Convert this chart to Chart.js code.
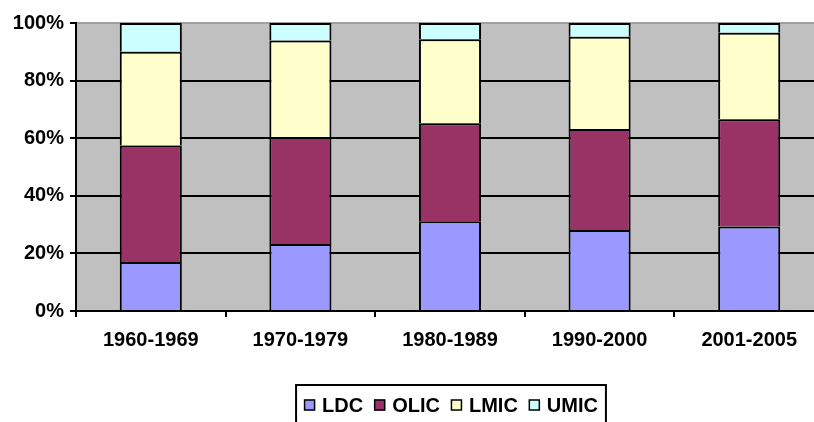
<!DOCTYPE html>
<html>
<head>
<meta charset="utf-8">
<script src="https://cdn.jsdelivr.net/npm/chart.js@4"></script>
<style>
  html, body { margin:0; padding:0; background:#fff; overflow:hidden; }
  #wrap { width:814px; height:422px; overflow:hidden; }
  #box { width:824px; height:422px; }
</style>
</head>
<body>
<div id="wrap"><div id="box"><canvas id="chart"></canvas></div></div>
<script>
var periods = ['1960-1969','1970-1979','1980-1989','1990-2000','2001-2005'];
var ldc  = [17.0, 23.3, 31.2, 28.1, 29.3];
var olic = [40.5, 37.1, 34.0, 35.1, 37.3];
var lmic = [32.5, 33.5, 29.2, 32.0, 30.0];
var umic = [10.0,  6.1,  5.6,  4.8,  3.4];
var yTicks = [0, 20, 40, 60, 80, 100];

var font = { family: '"Liberation Sans", Arial, sans-serif', size: 20, weight: 'bold' };

// gray plot area
var plotBg = {
  id: 'plotBg',
  beforeDraw: function (chart) {
    var a = chart.chartArea, c = chart.ctx;
    c.save();
    c.fillStyle = '#C0C0C0';
    c.fillRect(a.left, a.top, a.right - a.left, a.bottom - a.top);
    c.restore();
  }
};

// boxed legend like the excel one
var boxLegend = {
  id: 'boxLegend',
  afterDraw: function (chart) {
    var c = chart.ctx;
    var ds = chart.data.datasets;
    c.save();
    c.font = 'bold 20px "Liberation Sans", Arial, sans-serif';
    c.textBaseline = 'middle';
    var sq = 11, gap = 7, itemGap = 11, total = 0;
    ds.forEach(function (d, i) {
      total += sq + gap + c.measureText(d.label).width + (i < ds.length - 1 ? itemGap : 0);
    });
    var cx = 451;
    var x = cx - total / 2, y = 405;
    c.strokeStyle = '#000';
    c.lineWidth = 2;
    c.strokeRect(x - 8, 385, total + 16, 60);
    ds.forEach(function (d) {
      c.fillStyle = d.backgroundColor;
      c.fillRect(x, y - sq / 2, sq, sq);
      c.lineWidth = 1.5;
      c.strokeRect(x + 0.5, y - sq / 2 + 0.5, sq - 1, sq - 1);
      x += sq + gap;
      c.fillStyle = '#000';
      c.fillText(d.label, x, y + 1);
      x += c.measureText(d.label).width + itemGap;
    });
    c.restore();
  }
};

function mk(label, vals, color) {
  return {
    label: label, data: vals, backgroundColor: color,
    borderColor: '#000', borderWidth: 2,
    barPercentage: 0.415, categoryPercentage: 1
  };
}

var ctx = document.getElementById('chart').getContext('2d');
var myChart = new Chart(ctx, {
  type: 'bar',
  data: {
    labels: periods,
    datasets: [
      mk('LDC', ldc, '#9999FF'),
      mk('OLIC', olic, '#993366'),
      mk('LMIC', lmic, '#FFFFCC'),
      mk('UMIC', umic, '#CCFFFF')
    ]
  },
  options: {
    responsive: true,
    maintainAspectRatio: false,
    animation: false,
    layout: { padding: { top: 23, left: 0, right: 0, bottom: 0 } },
    plugins: { legend: { display: false }, tooltip: { enabled: false } },
    scales: {
      x: {
        stacked: true,
        grid: { offset: true, drawOnChartArea: false, tickLength: 6, color: '#000', lineWidth: 2 },
        border: { display: true, color: '#000', width: 2 },
        ticks: { color: '#000', font: font, padding: 11, maxRotation: 0 },
        afterFit: function (s) { s.height = 111; }
      },
      y: {
        stacked: true, min: 0, max: 100,
        afterBuildTicks: function (s) { s.ticks = yTicks.map(function (v) { return { value: v }; }); },
        grid: {
          color: function (c) { return c.tick && c.tick.value === 100 ? '#A0A0A0' : '#000'; },
          lineWidth: 2, tickLength: 6, tickColor: '#000'
        },
        border: { display: true, color: '#000', width: 2 },
        ticks: { color: '#000', font: font, padding: 6, callback: function (v) { return v + '%'; } },
        afterFit: function (s) { s.width = 76; }
      }
    }
  },
  plugins: [plotBg, boxLegend]
});
</script>
</body>
</html>
